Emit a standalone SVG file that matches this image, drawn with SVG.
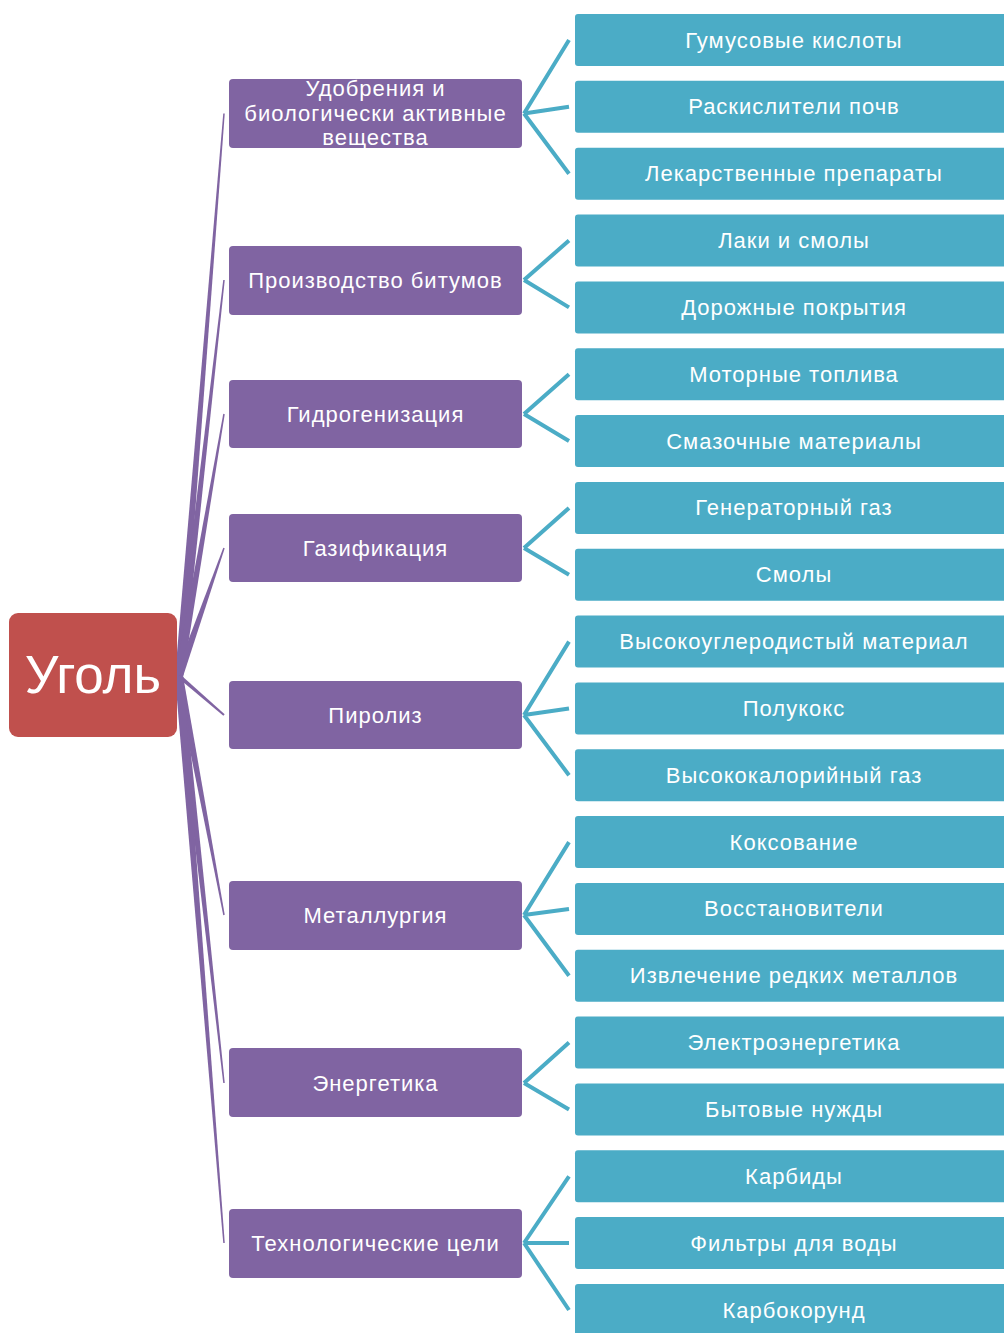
<svg xmlns="http://www.w3.org/2000/svg" width="1004" height="1333" viewBox="0 0 1004 1333">
<style>
.root{fill:#C0504D}
.p{fill:#8064A2}
.b{fill:#4BACC6}
.t{fill:#fff;font-family:"Liberation Sans",Arial,sans-serif;font-size:22px;letter-spacing:1px;text-anchor:middle}
.rt{fill:#fff;font-family:"Liberation Sans",Arial,sans-serif;font-size:53px;text-anchor:middle}
.pc{fill:#8064A2;stroke:none}
.bc{stroke:#4BACC6;stroke-width:4;fill:none;stroke-linecap:butt}
</style>
<rect width="1004" height="1333" fill="#fff"/>
<g id="connectors">
<polygon class="pc" points="182.99,676.32 224.75,113.56 223.25,113.44 175.01,675.68"/>
<polygon class="pc" points="182.97,676.45 224.75,280.08 223.25,279.92 175.03,675.55"/>
<polygon class="pc" points="182.94,676.68 224.74,414.13 223.26,413.87 175.06,675.32"/>
<polygon class="pc" points="182.77,677.33 224.71,548.25 223.29,547.75 175.23,674.67"/>
<polygon class="pc" points="177.69,677.51 223.34,715.76 224.66,714.24 180.31,674.49"/>
<polygon class="pc" points="175.07,676.74 223.26,915.14 224.74,914.86 182.93,675.26"/>
<polygon class="pc" points="175.02,676.44 223.25,1083.08 224.75,1082.92 182.98,675.56"/>
<polygon class="pc" points="175.01,676.32 223.25,1243.06 224.75,1242.94 182.99,675.68"/>
<path class="bc" d="M524,113.5L569,40M524,113.5L569,106.8M524,113.5L569,173.7"/>
<path class="bc" d="M524,280L569,240.5M524,280L569,307.4"/>
<path class="bc" d="M524,414L569,374.2M524,414L569,441"/>
<path class="bc" d="M524,548L569,507.9M524,548L569,574.7"/>
<path class="bc" d="M524,715L569,641.6M524,715L569,708.4M524,715L569,775.2"/>
<path class="bc" d="M524,915L569,842.1M524,915L569,908.9M524,915L569,975.8"/>
<path class="bc" d="M524,1083L569,1042.6M524,1083L569,1109.4"/>
<path class="bc" d="M524,1243L569,1176.3M524,1243L569,1243.1M524,1243L569,1310"/>
</g>
<g id="root"><rect class="root" x="9" y="613" width="168" height="124" rx="9"/><text class="rt" x="93" y="693">Уголь</text></g>
<g id="n1"><rect class="p" x="229" y="79" width="293" height="69" rx="4"/><text class="t" x="375.5" y="96">Удобрения и</text><text class="t" x="375.5" y="120.5">биологически активные</text><text class="t" x="375.5" y="145">вещества</text></g>
<g id="n2"><rect class="p" x="229" y="246" width="293" height="69" rx="4"/><text class="t" x="375.5" y="287.5">Производство битумов</text></g>
<g id="n3"><rect class="p" x="229" y="380" width="293" height="68" rx="4"/><text class="t" x="375.5" y="421.5">Гидрогенизация</text></g>
<g id="n4"><rect class="p" x="229" y="514" width="293" height="68" rx="4"/><text class="t" x="375.5" y="555.5">Газификация</text></g>
<g id="n5"><rect class="p" x="229" y="681" width="293" height="68" rx="4"/><text class="t" x="375.5" y="722.5">Пиролиз</text></g>
<g id="n6"><rect class="p" x="229" y="881" width="293" height="69" rx="4"/><text class="t" x="375.5" y="922.5">Металлургия</text></g>
<g id="n7"><rect class="p" x="229" y="1048" width="293" height="69" rx="4"/><text class="t" x="375.5" y="1090.5">Энергетика</text></g>
<g id="n8"><rect class="p" x="229" y="1209" width="293" height="69" rx="4"/><text class="t" x="375.5" y="1250.5">Технологические цели</text></g>
<g id="c0"><rect class="b" x="575" y="14" width="440" height="52" rx="3"/><text class="t" x="794" y="47.5">Гумусовые кислоты</text></g>
<g id="c1"><rect class="b" x="575" y="80.8" width="440" height="52" rx="3"/><text class="t" x="794" y="114.3">Раскислители почв</text></g>
<g id="c2"><rect class="b" x="575" y="147.7" width="440" height="52" rx="3"/><text class="t" x="794" y="181.2">Лекарственные препараты</text></g>
<g id="c3"><rect class="b" x="575" y="214.5" width="440" height="52" rx="3"/><text class="t" x="794" y="248">Лаки и смолы</text></g>
<g id="c4"><rect class="b" x="575" y="281.4" width="440" height="52" rx="3"/><text class="t" x="794" y="314.9">Дорожные покрытия</text></g>
<g id="c5"><rect class="b" x="575" y="348.2" width="440" height="52" rx="3"/><text class="t" x="794" y="381.7">Моторные топлива</text></g>
<g id="c6"><rect class="b" x="575" y="415" width="440" height="52" rx="3"/><text class="t" x="794" y="448.5">Смазочные материалы</text></g>
<g id="c7"><rect class="b" x="575" y="481.9" width="440" height="52" rx="3"/><text class="t" x="794" y="515.4">Генераторный газ</text></g>
<g id="c8"><rect class="b" x="575" y="548.7" width="440" height="52" rx="3"/><text class="t" x="794" y="582.2">Смолы</text></g>
<g id="c9"><rect class="b" x="575" y="615.6" width="440" height="52" rx="3"/><text class="t" x="794" y="649.1">Высокоуглеродистый материал</text></g>
<g id="c10"><rect class="b" x="575" y="682.4" width="440" height="52" rx="3"/><text class="t" x="794" y="715.9">Полукокс</text></g>
<g id="c11"><rect class="b" x="575" y="749.2" width="440" height="52" rx="3"/><text class="t" x="794" y="782.7">Высококалорийный газ</text></g>
<g id="c12"><rect class="b" x="575" y="816.1" width="440" height="52" rx="3"/><text class="t" x="794" y="849.6">Коксование</text></g>
<g id="c13"><rect class="b" x="575" y="882.9" width="440" height="52" rx="3"/><text class="t" x="794" y="916.4">Восстановители</text></g>
<g id="c14"><rect class="b" x="575" y="949.8" width="440" height="52" rx="3"/><text class="t" x="794" y="983.3">Извлечение редких металлов</text></g>
<g id="c15"><rect class="b" x="575" y="1016.6" width="440" height="52" rx="3"/><text class="t" x="794" y="1050.1">Электроэнергетика</text></g>
<g id="c16"><rect class="b" x="575" y="1083.4" width="440" height="52" rx="3"/><text class="t" x="794" y="1116.9">Бытовые нужды</text></g>
<g id="c17"><rect class="b" x="575" y="1150.3" width="440" height="52" rx="3"/><text class="t" x="794" y="1183.8">Карбиды</text></g>
<g id="c18"><rect class="b" x="575" y="1217.1" width="440" height="52" rx="3"/><text class="t" x="794" y="1250.6">Фильтры для воды</text></g>
<g id="c19"><rect class="b" x="575" y="1284" width="440" height="52" rx="3"/><text class="t" x="794" y="1317.5">Карбокорунд</text></g>
</svg>
